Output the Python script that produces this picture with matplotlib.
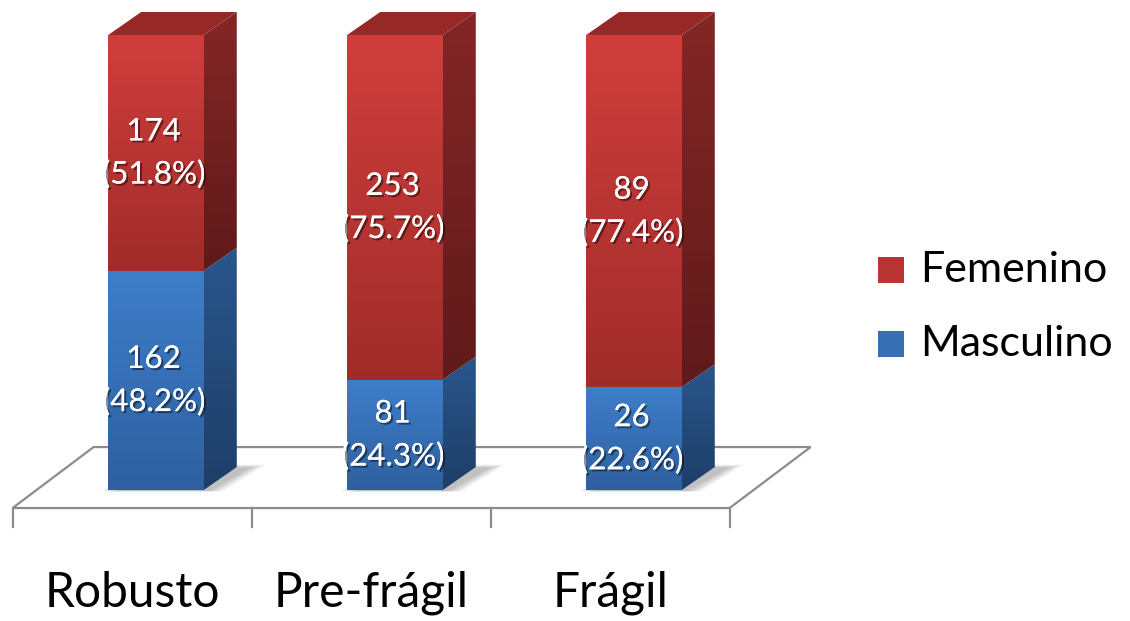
import matplotlib
matplotlib.use("Agg")
import matplotlib.pyplot as plt
import matplotlib.patheffects as pe
from matplotlib.patches import Polygon, Rectangle
import numpy as np

plt.rcParams['font.family'] = ['Lato', 'DejaVu Sans']

categories = ['Robusto', 'Pre-frágil', 'Frágil']
femenino = [174, 253, 89]
masculino = [162, 81, 26]
series = ['Femenino', 'Masculino']

totals = [f + m for f, m in zip(femenino, masculino)]
pct_m = [100.0 * m / t for m, t in zip(masculino, totals)]
pct_f = [100.0 * f / t for f, t in zip(femenino, totals)]

# colours: (front top, front bottom, side top, side bottom)
red = [(208, 62, 60), (160, 44, 42), (132, 38, 38), (96, 26, 26)]
blue = [(62, 126, 201), (46, 96, 160), (42, 86, 140), (30, 62, 104)]
red_top = (150, 40, 40)
grey = '#8c8c8c'

# 3d look: half width of a bar, depth offsets (x in categories, y in percent)
HW = 0.20
DX, DY = 0.138, 5.05
FLOOR_Y = -3.96
FDX, FDY = 0.339, 13.4


def rgb(c):
    return np.array(c) / 255.0


def grad_face(ax, verts, c_top, c_bot, z):
    poly = Polygon(verts, closed=True, facecolor='none', edgecolor='none', zorder=z)
    ax.add_patch(poly)
    xs = [v[0] for v in verts]
    ys = [v[1] for v in verts]
    g = np.linspace(0, 1, 200)[:, None, None]
    img = rgb(c_top) * (1 - g) + rgb(c_bot) * g
    im = ax.imshow(img, extent=[min(xs), max(xs), min(ys), max(ys)],
                   aspect='auto', origin='upper', zorder=z, interpolation='bilinear')
    im.set_clip_path(poly)


fig = plt.figure(figsize=(11.3, 6.21), dpi=100)
ax = fig.add_axes([0, 0, 1, 1])
ax.set_axis_off()

# floor
x0, x1 = -0.6, len(categories) - 0.6
floor = [(x0, FLOOR_Y), (x1, FLOOR_Y), (x1 + FDX, FLOOR_Y + FDY), (x0 + FDX, FLOOR_Y + FDY)]
ax.add_patch(Polygon(floor, closed=True, facecolor='white', edgecolor=grey, lw=1.6, zorder=1))
for k in range(len(categories) + 1):
    ax.plot([x0 + k, x0 + k], [FLOOR_Y, FLOOR_Y - 4.2], color=grey, lw=1.6, zorder=1)

for i, cat in enumerate(categories):
    xc = i
    xl, xr = xc - HW, xc + HW
    segs = [(0, pct_m[i], blue, masculino[i], pct_m[i]),
            (pct_m[i], 100, red, femenino[i], pct_f[i])]

    # soft shadow on the floor
    for s in range(6):
        e = 0.012 * s
        sh = [(xl - 0.03 + e, -0.3), (xr + 0.08 - e, -0.3),
              (xr + DX + 0.12 - e, DY + 0.5 - e * 10), (xl + DX + e, DY + 0.5 - e * 10)]
        ax.add_patch(Polygon(sh, closed=True, facecolor='black', edgecolor='none',
                             alpha=0.045, zorder=2))

    for y0, y1, col, n, p in segs:
        grad_face(ax, [(xl, y0), (xr, y0), (xr, y1), (xl, y1)], col[0], col[1], 3)
        grad_face(ax, [(xr, y0), (xr + DX, y0 + DY), (xr + DX, y1 + DY), (xr, y1)],
                  col[2], col[3], 3)
        ym = (y0 + y1) / 2
        fx = [pe.withSimplePatchShadow(offset=(1.5, -1.5), shadow_rgbFace='black', alpha=0.45),
              pe.Normal()]
        ax.text(xc - 0.01, ym + 4.7, f'{n}', color='white', fontsize=22.5,
                ha='center', va='center', zorder=6, path_effects=fx)
        ax.text(xc - 0.01, ym - 4.7, f'({p:.1f}%)', color='white', fontsize=22.5,
                ha='center', va='center', zorder=6, path_effects=fx)

    top = [(xl, 100), (xr, 100), (xr + DX, 100 + DY), (xl + DX, 100 + DY)]
    ax.add_patch(Polygon(top, closed=True, facecolor=rgb(red_top), edgecolor='none', zorder=3))

    ax.text(xc - 0.1, -22.6, cat, fontsize=34.5, ha='center', va='center', color='black')

ax.set_xlim(-0.6527, 4.0753)
ax.set_ylim(-28.79, 107.69)

# legend
lg = [(series[0], red), (series[1], blue)]
for k, (name, col) in enumerate(lg):
    yc = 270 + 74 * k
    ax.add_patch(Rectangle((878 / 1130, 1 - (yc + 13) / 621), 26 / 1130, 26 / 621,
                           transform=ax.transAxes, facecolor=rgb(col[0]) * 0.5 + rgb(col[1]) * 0.5,
                           edgecolor='none'))
    ax.text(920 / 1130, 1 - yc / 621, name, transform=ax.transAxes, fontsize=31,
            ha='left', va='center', color='black')

fig.savefig('out.png', dpi=100)
